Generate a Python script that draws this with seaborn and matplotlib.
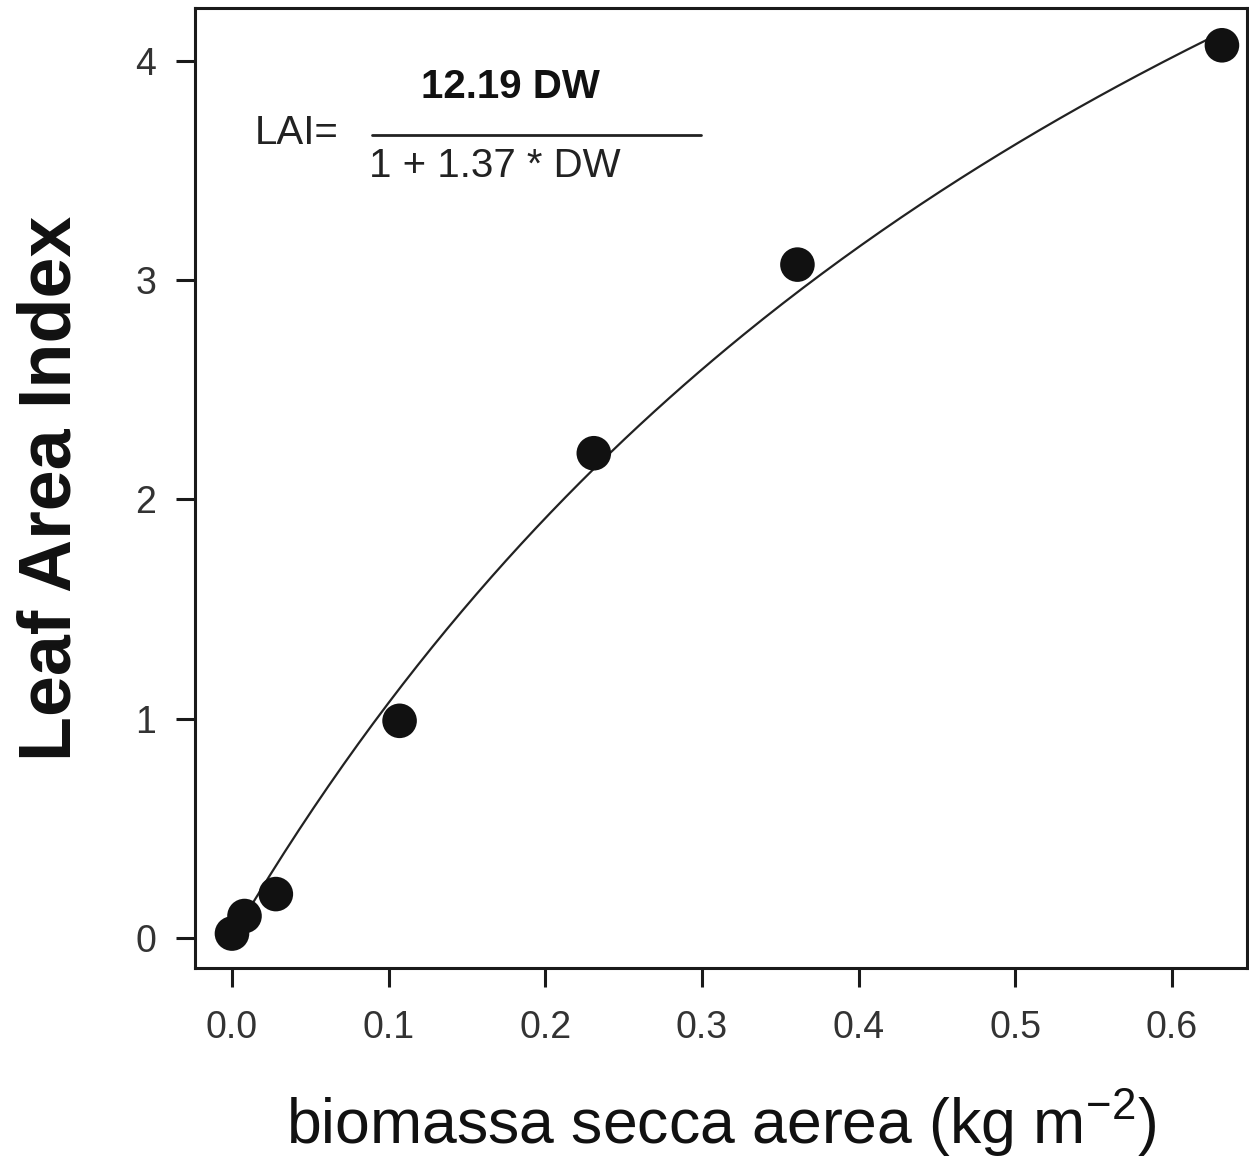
import numpy as np
import pandas as pd
import matplotlib
matplotlib.use("Agg")
import matplotlib.pyplot as plt
import seaborn as sns

# data
dw = [0.000, 0.008, 0.028, 0.107, 0.231, 0.361, 0.632]
lai = [0.02, 0.10, 0.20, 0.99, 2.21, 3.07, 4.07]
fit_a = 12.19
fit_b = 1.37
x_ticks = [0.0, 0.1, 0.2, 0.3, 0.4, 0.5, 0.6]
y_ticks = [0, 1, 2, 3, 4]

sns.set_theme(style="ticks")
plt.rcParams["font.family"] = ["Liberation Sans", "DejaVu Sans"]
plt.rcParams["mathtext.fontset"] = "custom"
plt.rcParams["mathtext.rm"] = "Liberation Sans"
plt.rcParams["mathtext.it"] = "Liberation Sans"

fig = plt.figure(figsize=(12.49, 11.60), dpi=100)
ax = fig.add_axes([195/1249, 1-968/1160, (1247-195)/1249, (968-8)/1160])

xs = np.linspace(0.005, 0.632, 200)
curve = pd.DataFrame({"x": xs, "y": fit_a * xs / (1 + fit_b * xs)})
sns.lineplot(data=curve, x="x", y="y", ax=ax, color="#222222", linewidth=1.6)

pts = pd.DataFrame({"x": dw, "y": lai})
sns.scatterplot(data=pts, x="x", y="y", ax=ax, s=620, color="#111111",
                edgecolor="none", zorder=3)

ax.set_xlim(-0.0236, 0.648)
ax.set_ylim(-0.137, 4.24)
ax.set_xticks(x_ticks)
ax.set_xticklabels([f"{t:.1f}" for t in x_ticks])
ax.set_yticks(y_ticks)
ax.set_yticklabels([str(t) for t in y_ticks])

for s in ax.spines.values():
    s.set_linewidth(2.2)
    s.set_color("#1a1a1a")
ax.tick_params(axis="both", length=14, width=2.2, color="#1a1a1a",
               labelsize=27, labelcolor="#333333")
ax.tick_params(axis="x", pad=16)
ax.tick_params(axis="y", pad=14)

ax.set_xlabel(r"biomassa secca aerea (kg m$^{-2}$)", fontsize=45,
              color="#111111", labelpad=30)
ax.set_ylabel("Leaf Area Index", fontsize=53, fontweight="bold",
              color="#111111", labelpad=36)

# formula annotation
ax.text(0.0145, 3.67, "LAI=", fontsize=29, color="#222222",
        ha="left", va="center")
ax.text(0.1775, 3.88, "12.19 DW", fontsize=29, fontweight="bold",
        color="#111111", ha="center", va="center")
ax.plot([0.0895, 0.2995], [3.66, 3.66], color="#222222", linewidth=2.0)
ax.text(0.0875, 3.52, "1 + 1.37 * DW", fontsize=29, color="#222222",
        ha="left", va="center")

fig.savefig("out.png", dpi=100)
